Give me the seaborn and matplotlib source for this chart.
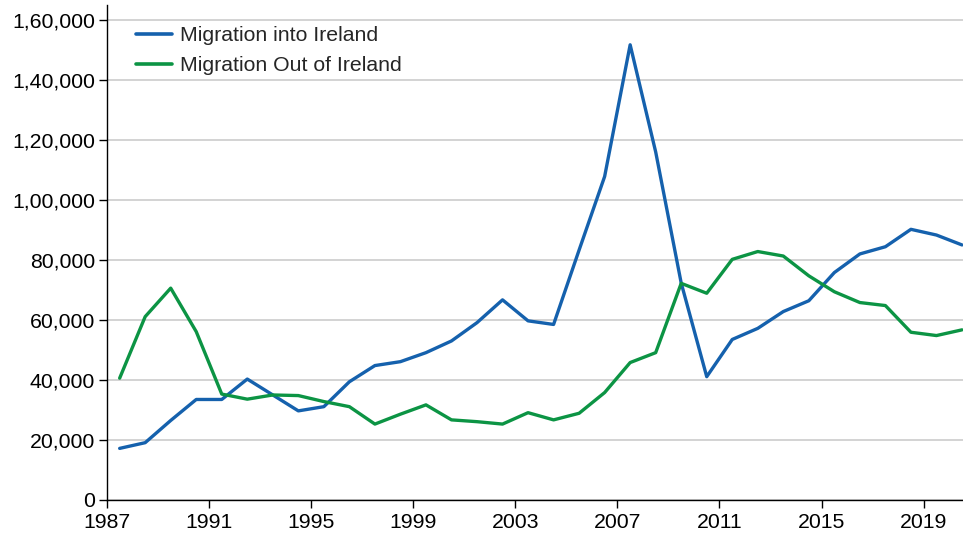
import matplotlib
matplotlib.use("Agg")
import matplotlib.pyplot as plt
import seaborn as sns
import pandas as pd

# Data
years = list(range(1987, 2021))
migration_in = [17200, 19100, 26500, 33500, 33500, 40300, 35000, 29700, 31100, 39400,
                44800, 46100, 49100, 53000, 59100, 66700, 59700, 58500, 83300, 107800,
                151700, 116000, 72300, 41100, 53500, 57200, 62800, 66400, 75800, 82000,
                84400, 90200, 88300, 85000]
migration_out = [40600, 61100, 70600, 56100, 35300, 33600, 35000, 34800, 32800, 31100,
                 25300, 28600, 31700, 26700, 26100, 25300, 29100, 26700, 28900, 35800,
                 45800, 49100, 72200, 68900, 80200, 82800, 81300, 74700, 69400, 65800,
                 64800, 55900, 54800, 56700]
series_names = ["Migration into Ireland", "Migration Out of Ireland"]
x_tick_years = [1987, 1991, 1995, 1999, 2003, 2007, 2011, 2015, 2019]
y_ticks = [0, 20000, 40000, 60000, 80000, 100000, 120000, 140000, 160000]
y_tick_labels = ["0", "20,000", "40,000", "60,000", "80,000",
                 "1,00,000", "1,20,000", "1,40,000", "1,60,000"]

df = pd.DataFrame({"year": years,
                   series_names[0]: migration_in,
                   series_names[1]: migration_out})
long_df = df.melt(id_vars="year", var_name="series", value_name="people")

sns.set_style("white")
plt.rcParams["font.family"] = ["Liberation Sans", "DejaVu Sans"]

fig = plt.figure(figsize=(9.63, 5.42), dpi=100)
ax = fig.add_axes([0.111, 0.0775, 0.889, 0.9135])

palette = {series_names[0]: "#1561ad", series_names[1]: "#0c9444"}
sns.lineplot(data=long_df, x="year", y="people", hue="series", palette=palette,
             linewidth=2.4, ax=ax)

ax.set_xlim(1986.5, 2020.04)
ax.set_ylim(0, 165000)
ax.set_xticks([y - 0.5 for y in x_tick_years])
ax.set_xticklabels([str(y) for y in x_tick_years])
ax.set_yticks(y_ticks)
ax.set_yticklabels(y_tick_labels)
ax.set_xlabel("")
ax.set_ylabel("")

ax.yaxis.grid(True, color="#cccccc", linewidth=1.2)
ax.set_axisbelow(True)
for side in ["top", "right"]:
    ax.spines[side].set_visible(False)
for side in ["left", "bottom"]:
    ax.spines[side].set_color("black")
    ax.spines[side].set_linewidth(1.0)
ax.tick_params(axis="both", direction="out", length=5.5, width=1, color="black",
               labelsize=15.3, labelcolor="black", bottom=True, left=True)
ax.tick_params(axis="y", pad=3)
ax.tick_params(axis="x", pad=4)

leg = ax.legend(loc="upper left", bbox_to_anchor=(0.012, 0.995), frameon=False,
                fontsize=15.3, handlelength=1.7, handletextpad=0.38, labelspacing=0.5)
for line in leg.get_lines():
    line.set_linewidth(2.6)

fig.savefig("out.png", dpi=100)
